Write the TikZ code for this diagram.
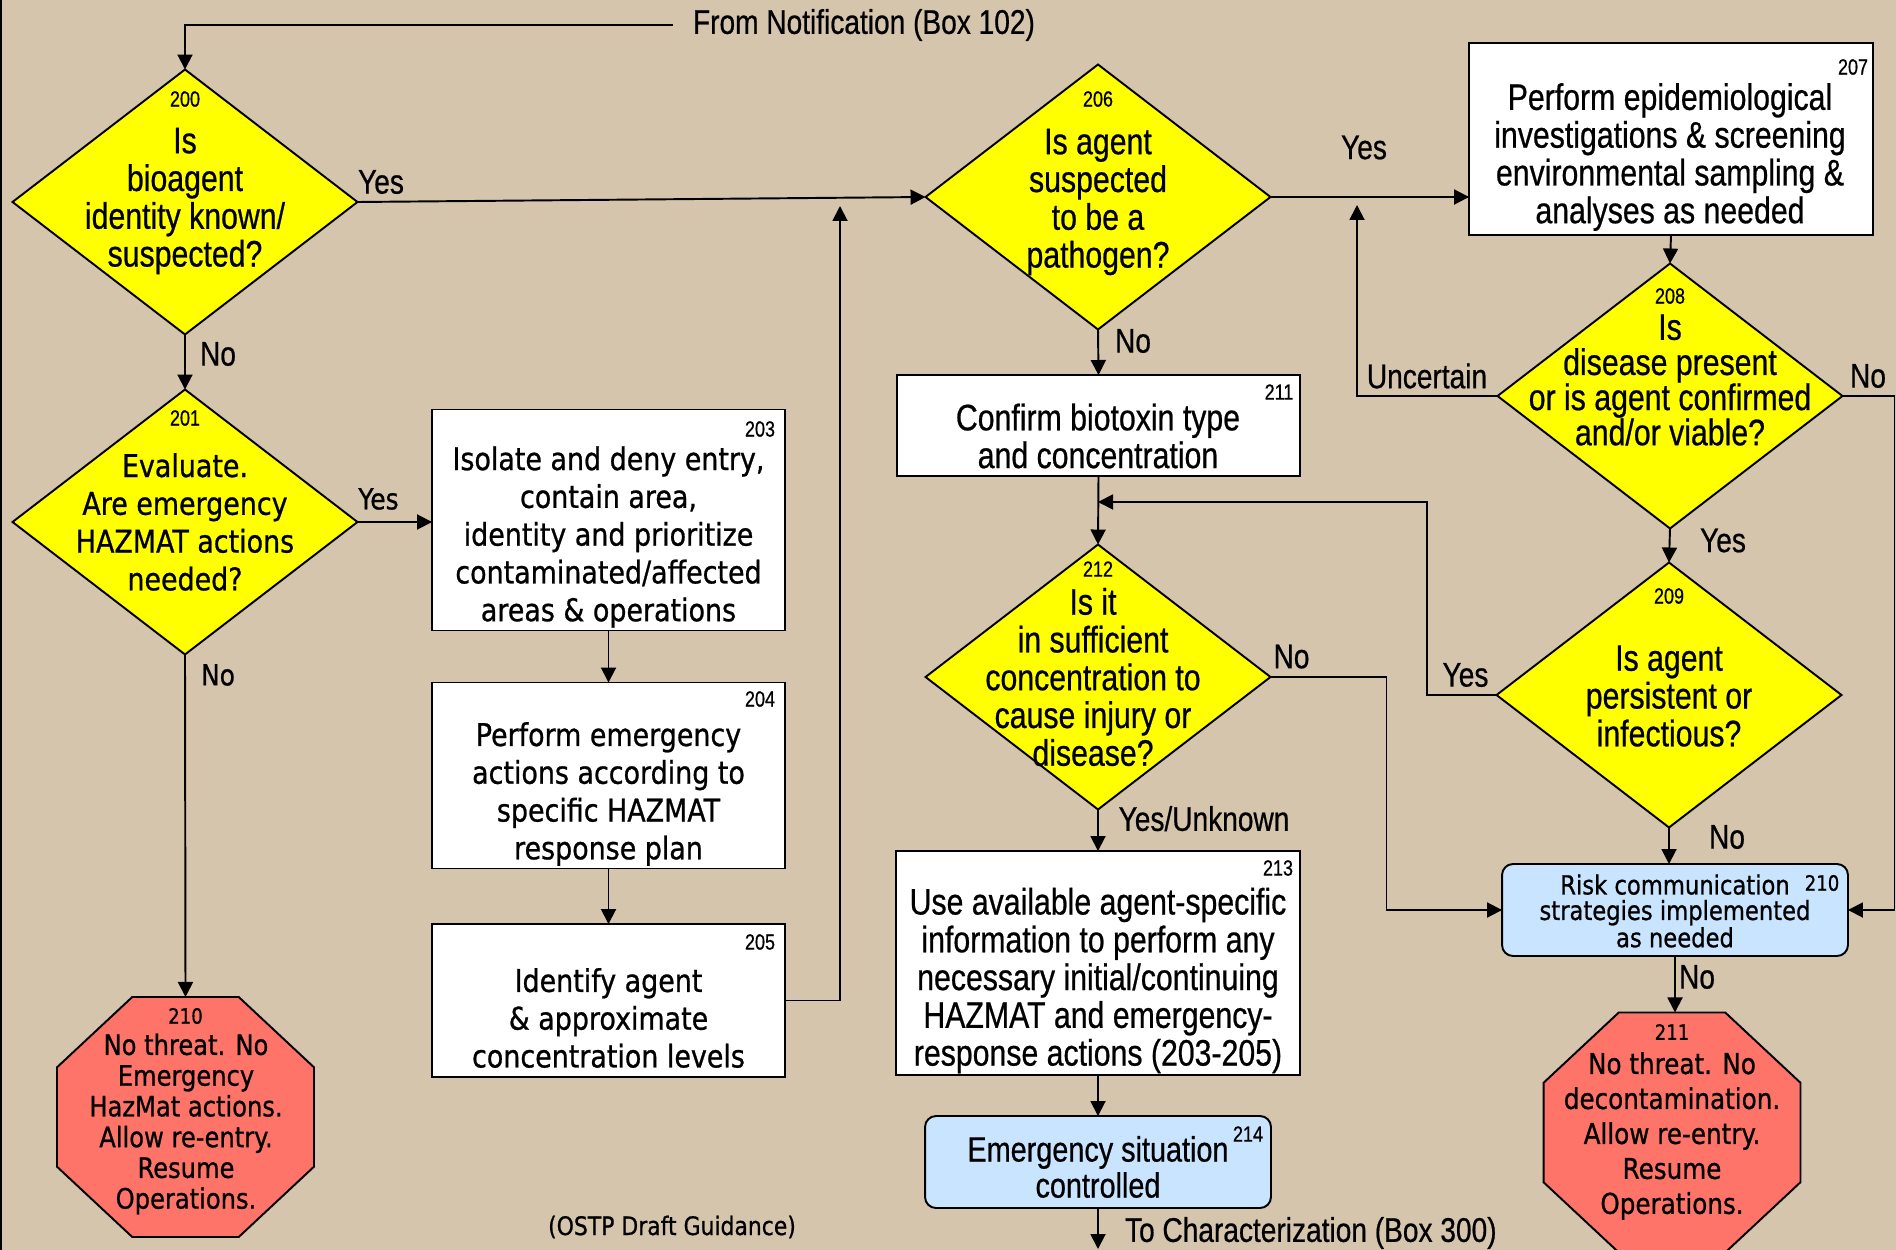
\documentclass[tikz,border=0pt]{standalone}
\usepackage{fontspec}
\setmainfont{Liberation Sans}
\newfontfamily\narrowfont[FakeStretch=0.82,FakeBold=0.6]{Liberation Sans}
\newfontfamily\widefont[FakeStretch=0.86,FakeBold=0.8]{DejaVu Sans}
\usetikzlibrary{arrows.meta,calc,positioning,shapes.geometric}
\definecolor{Tan}{RGB}{214,197,173}
\definecolor{QYellow}{RGB}{255,255,0}
\definecolor{StopRed}{RGB}{255,116,104}
\definecolor{PaleBlue}{RGB}{200,228,255}

\tikzset{
  every node/.style={inner sep=0pt,outer sep=0pt},
  arr/.style={line width=1.1pt,-{Triangle[length=0.3cm,width=0.3cm]}},
  decision/.style={diamond,draw,line width=1.1pt,fill=QYellow,minimum width=6.9cm,minimum height=5.3cm},
  actbox/.style={rectangle,draw,line width=1.1pt,fill=white,minimum width=7.06cm},
  bluebox/.style={rectangle,rounded corners=0.22cm,draw,line width=1.1pt,fill=PaleBlue,minimum width=6.92cm,minimum height=1.84cm},
  stopsign/.style={regular polygon,regular polygon sides=8,draw,line width=1.1pt,fill=StopRed,minimum size=5.564cm},
  qtext/.style={align=center,font=\narrowfont\fontsize{21}{21.5}\selectfont},
  wtext/.style={align=center,font=\widefont\fontsize{17.8}{21.5}\selectfont},
  num/.style={font=\narrowfont\fontsize{12.5}{13}\selectfont},
  wnum/.style={font=\widefont\fontsize{12}{13}\selectfont},
  lab/.style={font=\narrowfont\fontsize{19.5}{20}\selectfont},
  wlab/.style={font=\widefont\fontsize{16.5}{18}\selectfont}
}

\begin{document}
\begin{tikzpicture}[x=0.02cm,y=-0.02cm]
\useasboundingbox (0,0) rectangle (1896,1250);
\fill[Tan] (0,0) rectangle (1896,1250);
\draw[line width=1.5pt] (0.7,0) -- (0.7,1250);

% decisions
\node[decision] (d200) at (185,202) {};
\node[decision] (d201) at (185,522) {};
\node[decision] (d206) at (1098,197) {};
\node[decision] (d208) at (1670,396) {};
\node[decision] (d209) at (1669,695) {};
\node[decision] (d212) at (1098,677) {};

% actions
\node[actbox,minimum height=4.42cm] (b203) at (608.5,520) {};
\node[actbox,minimum height=3.72cm] (b204) at (608.5,775.5) {};
\node[actbox,minimum height=3.06cm] (b205) at (608.5,1000.5) {};
\node[actbox,minimum width=8.08cm,minimum height=3.84cm] (b207) at (1671,139) {};
\node[actbox,minimum width=8.06cm,minimum height=2.02cm] (b211) at (1098.5,425.5) {};
\node[actbox,minimum width=8.08cm,minimum height=4.48cm] (b213) at (1098,963) {};
\node[bluebox] (b214) at (1098,1162) {};
\node[bluebox] (r210) at (1675,910) {};

% stop signs
\begin{scope}[shift={(185.5,1117)},yscale=0.934]
  \node[stopsign,transform shape] (s210) at (0,0) {};
\end{scope}
\begin{scope}[shift={(1672,1132.5)},yscale=0.934]
  \node[stopsign,transform shape] (s211) at (0,0) {};
\end{scope}

% texts
\node[qtext] (t200) at (185,201) {Is\\bioagent\\identity known/\\suspected?};
\node[num] (n200) at (185,99) {200};
\node[wtext] (t201) at (185,522) {Evaluate.\\Are emergency\\HAZMAT actions\\needed?};
\node[num] (n201) at (185,418) {201};
\node[qtext] (t206) at (1098,202) {Is agent\\suspected\\to be a\\pathogen?};
\node[num] (n206) at (1098,99) {206};
\node[qtext,font=\narrowfont\fontsize{21}{20}\selectfont] (t208) at (1670,380) {Is\\disease present\\or is agent confirmed\\and/or viable?};
\node[num] (n208) at (1670,296) {208};
\node[qtext] (t209) at (1669,696) {Is agent\\persistent or\\infectious?};
\node[num] (n209) at (1669,596) {209};
\node[qtext] (t212) at (1093,677) {Is it\\in sufficient\\concentration to\\cause injury or\\disease?};
\node[num] (n212) at (1098,569) {212};

\node[wtext] (t203) at (608.5,537) {Isolate and deny entry,\\contain area,\\identity and prioritize\\contaminated/affected\\areas \& operations};
\node[num] (n203) at (760,429) {203};
\node[wtext] (t204) at (608.5,794) {Perform emergency\\actions according to\\specific HAZMAT\\response plan};
\node[num] (n204) at (760,699) {204};
\node[wtext] (t205) at (608.5,1018) {Identify agent\\\& approximate\\concentration levels};
\node[num] (n205) at (760,942) {205};
\node[qtext] (t207) at (1670,157) {Perform epidemiological\\investigations \& screening\\environmental sampling \&\\analyses as needed};
\node[num] (n207) at (1853,67) {207};
\node[qtext] (t211) at (1098,436) {Confirm biotoxin type\\and concentration};
\node[num] (n211) at (1279,392) {211};
\node[qtext] (t213) at (1098,980.5) {Use available agent-specific\\information to perform any\\necessary initial/continuing\\HAZMAT and emergency-\\response actions (203-205)};
\node[num] (n213) at (1278,868) {213};
\node[qtext,font=\narrowfont\fontsize{20}{20.5}\selectfont] (t214) at (1098,1167) {Emergency situation\\controlled};
\node[num] (n214) at (1248,1134) {214};
\node[align=center,font=\widefont\fontsize{15}{14.5}\selectfont] (t210r) at (1675,911) {Risk communication\\strategies implemented\\as needed};
\node[wnum] (n210r) at (1822,883) {210};
\node[align=center,font=\widefont\fontsize{16}{17.5}\selectfont] (ts210) at (186,1124) {No threat. No\\Emergency\\HazMat actions.\\Allow re-entry.\\Resume\\Operations.};
\node[wnum] (ns210) at (185.5,1016) {210};
\node[align=center,font=\widefont\fontsize{16.3}{19.9}\selectfont] (ts211) at (1672,1136) {No threat. No\\decontamination.\\Allow re-entry.\\Resume\\Operations.};
\node[wnum] (ns211) at (1672,1032) {211};

% labels
\node[lab] (y200) at (381,182) {Yes};
\node[lab] (no200) at (218,354) {No};
\node[wlab] (y201) at (378.5,499) {Yes};
\node[wlab] (no201) at (218,675) {No};
\node[lab] (y206) at (1364,147.5) {Yes};
\node[lab] (no206) at (1133,341) {No};
\node[lab] (u208) at (1427,376) {Uncertain};
\node[lab] (no208) at (1868,376) {No};
\node[lab] (y208) at (1723,540.5) {Yes};
\node[lab] (y209) at (1465.5,675) {Yes};
\node[lab] (no209) at (1727,837) {No};
\node[lab] (no212) at (1291.5,656.6) {No};
\node[lab] (yu212) at (1204,818.6) {Yes/Unknown};
\node[lab] (no210) at (1697,977) {No};
\node[lab,anchor=west,inner xsep=0.4cm] (lfrom) at (673,25) {From Notification (Box 102)};
\node[lab,anchor=west] (lto) at (1125,1233) {To Characterization (Box 300)};
\node[font=\widefont\fontsize{14.5}{15}\selectfont] (ostp) at (672,1227) {(OSTP Draft Guidance)};

% connectors
\coordinate (j205) at (840,206);
\coordinate (j208) at (1357,205);
\coordinate (j212) at (1098,502);
\coordinate (toC) at (1098,1249);
\draw[arr] (lfrom.west) -| (d200.north);
\draw[arr] (d200.east) -- (d206.west);
\foreach \a/\b in {d200/d201,d201/s210,b203/b204,b204/b205,d206/b211,b211/d212,d212/b213,b213/b214,b207/d208,d208/d209}
  \draw[arr] (\a.south) -- (\b.north);
\draw[arr] (d201.east) -- (d201.east -| b203.west);
\draw[arr] (b205.east) -| (j205);
\draw[arr] (d206.east) -- (d206.east -| b207.west);
\draw[arr] (d208.west) -| (j208);
\draw[arr] (d208.east) -- ++(52,0) |- (r210.east);
\draw[arr] (d209.west) -- ++(-70,0) |- (j212);
\draw[arr] (d209.south) -- (d209.south |- r210.north);
\draw[arr] (d212.east) -- ++(116,0) |- (r210.west);
\draw[arr] (r210.south) -- (r210.south |- s211.north);
\draw[arr] (b214.south) -- (toC);
\end{tikzpicture}
\end{document}
